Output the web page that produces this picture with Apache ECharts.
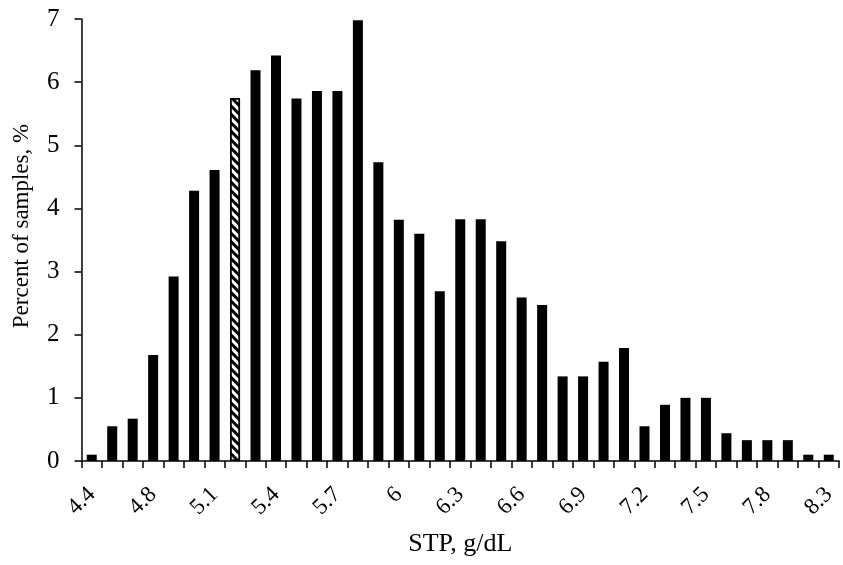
<!DOCTYPE html>
<html>
<head>
<meta charset="utf-8">
<script src="https://cdn.jsdelivr.net/npm/echarts@6/dist/echarts.min.js"></script>
<style>
  html, body { margin: 0; padding: 0; background: #fff; }
  #chart { width: 843px; height: 565px; }
</style>
</head>
<body>
<div id="chart"></div>
<script>
// STP bins (g/dL)
const categories = ['4.4', '4.6', '4.7', '4.8', '4.9', '5', '5.1', '5.2', '5.3', '5.4',
  '5.5', '5.6', '5.7', '5.8', '5.9', '6', '6.1', '6.2', '6.3', '6.4',
  '6.5', '6.6', '6.7', '6.8', '6.9', '7', '7.1', '7.2', '7.3', '7.4',
  '7.5', '7.6', '7.7', '7.8', '7.9', '8', '8.3']

// percent of samples
const percent = [0.1, 0.55, 0.67, 1.68, 2.92, 4.28, 4.61, 5.75, 6.19, 6.42,
  5.74, 5.86, 5.86, 6.98, 4.73, 3.82, 3.6, 2.69, 3.83, 3.83,
  3.48, 2.59, 2.47, 1.34, 1.34, 1.57, 1.79, 0.55, 0.89, 1.0,
  1.0, 0.44, 0.33, 0.33, 0.33, 0.1, 0.1]

const yTicks = [0, 1, 2, 3, 4, 5, 6, 7]

// the hatched bar
const markedBin = '5.2'

const font = "'Liberation Serif', 'Times New Roman', serif"

const myChart = echarts.init(document.getElementById('chart'))

const barData = percent.map((v, i) => {
  if (categories[i] !== markedBin) return v
  return {
    value: v,
    itemStyle: {
      color: '#fff',
      borderColor: '#000',
      borderWidth: 1.5,
      decal: {
        symbol: 'rect',
        symbolSize: 1,
        color: '#000',
        dashArrayX: [1, 0],
        dashArrayY: [2.5, 2.5],
        rotation: Math.PI / 4
      }
    }
  }
})

const option = {
  animation: false,
  backgroundColor: '#fff',
  textStyle: { fontFamily: font, color: '#000' },
  grid: {
    left: 81.5,
    right: 4,
    top: 19,
    bottom: 104,
    outerBoundsMode: 'none'
  },
  xAxis: {
    type: 'category',
    data: categories,
    name: 'STP, g/dL',
    nameLocation: 'middle',
    nameGap: 70,
    nameTextStyle: { fontFamily: font, fontSize: 26, color: '#000' },
    axisLine: { lineStyle: { color: '#000', width: 1.5 } },
    axisTick: { show: true, interval: 0, length: 7, lineStyle: { color: '#000', width: 1.5 } },
    axisLabel: {
      interval: 2,
      rotate: 45,
      margin: 30,
      fontFamily: font,
      fontSize: 23,
      color: '#000'
    }
  },
  yAxis: {
    type: 'value',
    min: yTicks[0],
    max: yTicks[yTicks.length - 1],
    interval: 1,
    name: 'Percent of samples, %',
    nameLocation: 'middle',
    nameGap: 48,
    nameRotate: 90,
    nameTextStyle: { fontFamily: font, fontSize: 23, color: '#000', padding: [0, 0, 0, 28] },
    splitLine: { show: false },
    axisLine: { show: true, lineStyle: { color: '#000', width: 1.5 } },
    axisTick: { show: true, length: 7, lineStyle: { color: '#000', width: 1.5 } },
    axisLabel: { margin: 22, fontFamily: font, fontSize: 25, color: '#000' }
  },
  series: [
    {
      type: 'bar',
      data: barData,
      barWidth: 10,
      itemStyle: { color: '#000' }
    }
  ]
}

myChart.setOption(option)
</script>
</body>
</html>
